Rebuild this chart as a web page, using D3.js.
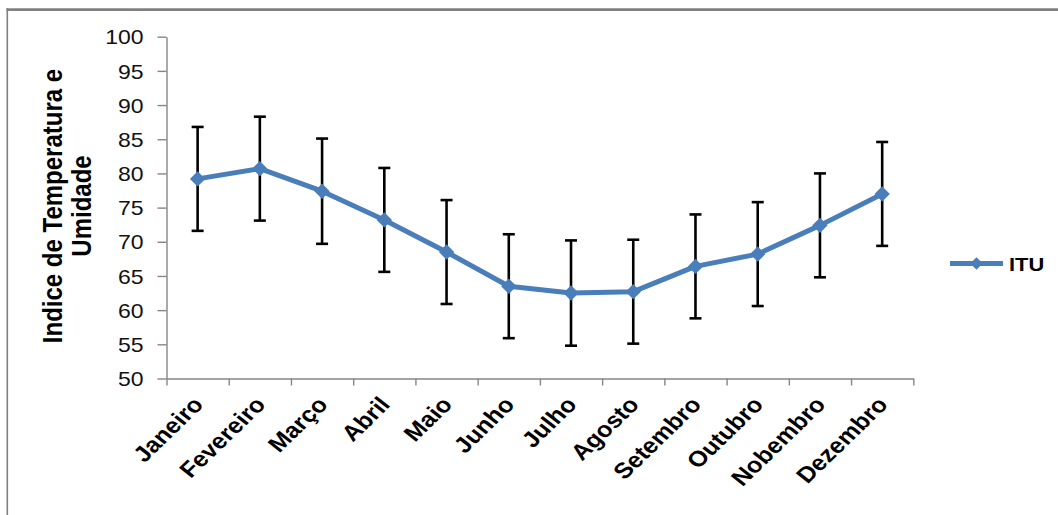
<!DOCTYPE html>
<html>
<head>
<meta charset="utf-8">
<script src="https://cdn.jsdelivr.net/npm/d3@7"></script>
<style>
  body { margin: 0; background: #fff; }
  svg { display: block; font-family: "Liberation Sans", Arial, sans-serif; }
</style>
</head>
<body>
<svg id="chart" width="1058" height="515"></svg>
<script>
// meses (categorias do eixo x)
const months = ["Janeiro", "Fevereiro", "Março", "Abril", "Maio", "Junho",
    "Julho", "Agosto", "Setembro", "Outubro", "Nobembro", "Dezembro"]
// média do ITU por mês
const itu = [79.2, 80.7, 77.4, 73.2, 68.5, 63.5, 62.5, 62.7, 66.4, 68.2, 72.4, 77.0]
// desvio (barras de erro)
const ituErro = [7.6, 7.6, 7.7, 7.6, 7.6, 7.6, 7.7, 7.6, 7.6, 7.6, 7.6, 7.6]
// marcas do eixo y
const yTicks = [50, 55, 60, 65, 70, 75, 80, 85, 90, 95, 100]

const seriesName = "ITU"
const yTitle = ["Indice de Temperatura e", "Umidade"]

const blue = "#4a7ebb",
    axisGray = "#868686",
    stretch = 1.15   // o texto original aparece esticado na horizontal

const svg = d3.select("#chart")

// borda do gráfico (cortada à direita e embaixo)
svg.append("line")
    .attr("x1", 6.5).attr("x2", 1058)
    .attr("y1", 9.6).attr("y2", 9.6)
    .attr("stroke", "#808080").attr("stroke-width", 2.7)
svg.append("line")
    .attr("x1", 7.3).attr("x2", 7.3)
    .attr("y1", 8.3).attr("y2", 515)
    .attr("stroke", "#808080").attr("stroke-width", 1.6)

// área de plotagem
const plot = { left: 166.5, right: 913.3, top: 36.7, bottom: 378.5 }

const x = d3.scaleBand()
    .domain(months)
    .range([plot.left, plot.right])
const xEdge = d3.scaleLinear()
    .domain([0, months.length])
    .range([plot.left, plot.right])
const y = d3.scaleLinear()
    .domain([50, 100])
    .range([plot.bottom, plot.top])

const cx = d => x(d) + x.bandwidth() / 2

// eixo y
const yAxis = svg.append("g")
    .attr("transform", `translate(${plot.left},0)`)
    .call(d3.axisLeft(y).tickValues(yTicks).tickSize(9).tickPadding(14).tickSizeOuter(0))
yAxis.select(".domain").attr("stroke", axisGray).attr("stroke-width", 1.4)
yAxis.selectAll(".tick line").attr("stroke", axisGray).attr("stroke-width", 1.4)
yAxis.selectAll(".tick text")
    .attr("x", 0)
    .attr("dy", "0.36em")
    .attr("transform", `translate(-23,0) scale(${stretch},1)`)
    .attr("font-size", 20)
    .attr("font-family", "Liberation Sans, Arial, sans-serif")
    .attr("fill", "#111")

// eixo x: linha + marcas entre categorias
const xAxis = svg.append("g")
    .attr("transform", `translate(0,${plot.bottom})`)
    .call(d3.axisBottom(xEdge).tickValues(d3.range(months.length + 1)).tickFormat("").tickSize(7).tickSizeOuter(0))
xAxis.select(".domain").attr("stroke", axisGray).attr("stroke-width", 1.4)
xAxis.selectAll(".tick line").attr("stroke", axisGray).attr("stroke-width", 1.4)

// rótulos das categorias, girados
svg.append("g")
    .selectAll("text")
    .data(months)
    .join("text")
    .attr("transform", d => `translate(${cx(d) + 7},${plot.bottom + 27}) scale(${stretch},1) rotate(-48)`)
    .attr("text-anchor", "end")
    .attr("font-size", 22)
    .attr("font-weight", "bold")
    .attr("fill", "#000")
    .text(d => d)

// título do eixo y (duas linhas)
svg.append("g")
    .selectAll("text")
    .data(yTitle)
    .join("text")
    .attr("transform", (d, i) => `translate(${62 + i * 29},206) scale(${stretch},1) rotate(-90)`)
    .attr("text-anchor", "middle")
    .attr("font-size", 24)
    .attr("font-weight", "bold")
    .attr("fill", "#000")
    .text(d => d)

// barras de erro
const err = svg.append("g")
    .selectAll("g")
    .data(months)
    .join("g")
    .attr("stroke", "#000")
    .attr("stroke-width", 2.6)
err.append("line")
    .attr("x1", d => cx(d)).attr("x2", d => cx(d))
    .attr("y1", (d, i) => y(itu[i] + ituErro[i]))
    .attr("y2", (d, i) => y(itu[i] - ituErro[i]))
err.append("line")
    .attr("x1", d => cx(d) - 6).attr("x2", d => cx(d) + 6)
    .attr("y1", (d, i) => y(itu[i] + ituErro[i]))
    .attr("y2", (d, i) => y(itu[i] + ituErro[i]))
err.append("line")
    .attr("x1", d => cx(d) - 6).attr("x2", d => cx(d) + 6)
    .attr("y1", (d, i) => y(itu[i] - ituErro[i]))
    .attr("y2", (d, i) => y(itu[i] - ituErro[i]))

// linha da série
const line = d3.line()
    .x((d, i) => cx(months[i]))
    .y(d => y(d))
svg.append("path")
    .datum(itu)
    .attr("d", line)
    .attr("fill", "none")
    .attr("stroke", blue)
    .attr("stroke-width", 5)
    .attr("stroke-linejoin", "round")

// marcadores (losango)
const diamond = d3.symbol().type(d3.symbolSquare).size(118)
svg.append("g")
    .selectAll("path")
    .data(itu)
    .join("path")
    .attr("d", diamond)
    .attr("transform", (d, i) => `translate(${cx(months[i])},${y(d)}) rotate(45)`)
    .attr("fill", blue)

// legenda
const legend = svg.append("g").attr("transform", "translate(950,263.5)")
legend.append("line")
    .attr("x1", 0).attr("x2", 53)
    .attr("stroke", blue).attr("stroke-width", 5)
legend.append("path")
    .attr("d", d3.symbol().type(d3.symbolSquare).size(80))
    .attr("transform", "translate(26.5,0) rotate(45)")
    .attr("fill", blue)
legend.append("text")
    .attr("transform", `translate(59,7.5) scale(${stretch},1)`)
    .attr("font-size", 19)
    .attr("font-weight", "bold")
    .attr("fill", "#000")
    .text(seriesName)
</script>
</body>
</html>
